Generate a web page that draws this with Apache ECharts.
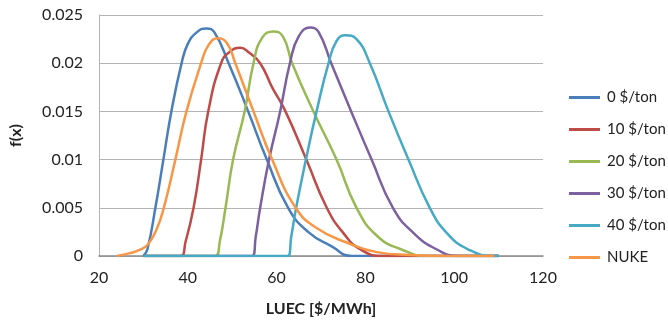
<!DOCTYPE html>
<html><head><meta charset="utf-8">
<script src="https://cdn.jsdelivr.net/npm/echarts@6/dist/echarts.min.js"></script>
<style>html,body{margin:0;padding:0;background:#fff}#c{width:668px;height:322px}</style>
</head><body><div id="c"></div>
<script>
const seriesNames = ['0 $/ton', '10 $/ton', '20 $/ton', '30 $/ton', '40 $/ton', 'NUKE'];
const xTicks = [20, 40, 60, 80, 100, 120];
const yTicks = [0, 0.005, 0.01, 0.015, 0.02, 0.025];

const x0 = [30, 30.9, 32.7, 34.5, 36.3, 38.6, 40, 42, 44.2, 46, 49.2, 53.6, 57.8, 62.6, 67.1, 72.4, 77, 110];
const y0 = [0, 0.0007, 0.005, 0.01, 0.015, 0.02, 0.022, 0.0232, 0.0236, 0.0232, 0.02, 0.015, 0.01, 0.005, 0.0025, 0.001, 0, 0];

const x10 = [30, 38.3, 39.5, 41.3, 43, 44.6, 47.5, 49.5, 51.8, 53.8, 56.3, 59, 62, 66.7, 71.3, 75, 78.8, 84, 110];
const y10 = [0, 0, 0.0015, 0.005, 0.01, 0.015, 0.02, 0.0212, 0.0216, 0.0211, 0.02, 0.0175, 0.015, 0.01, 0.005, 0.0024, 0.0007, 0, 0];

const x20 = [30, 46.2, 47.2, 48.5, 50.2, 52.8, 54.8, 56.7, 59.3, 61.5, 63.5, 68.3, 73.5, 78, 82.6, 88, 94, 110];
const y20 = [0, 0, 0.0015, 0.005, 0.01, 0.015, 0.02, 0.0226, 0.0233, 0.0227, 0.02, 0.015, 0.01, 0.005, 0.0021, 0.0007, 0, 0];

const x30 = [30, 54.5, 55.3, 56.3, 58.3, 60.8, 63, 65, 67.6, 69.5, 72.3, 76.8, 81.4, 86.2, 90.8, 96, 101, 110];
const y30 = [0, 0, 0.002, 0.005, 0.01, 0.015, 0.02, 0.0228, 0.0237, 0.0232, 0.02, 0.015, 0.01, 0.005, 0.0024, 0.0007, 0, 0];

const x40 = [30, 62.5, 63.3, 64.4, 66.6, 69, 71.7, 73.5, 75.5, 78, 81, 85.2, 89.7, 94.5, 98.3, 103.1, 109, 110];
const y40 = [0, 0, 0.002, 0.005, 0.01, 0.015, 0.02, 0.0223, 0.0229, 0.0225, 0.02, 0.015, 0.01, 0.005, 0.0024, 0.0007, 0, 0];

const xNuke = [24, 27, 29, 31, 33, 34.6, 37.2, 39.7, 43, 44.7, 46.8, 48.8, 50.7, 54.8, 59, 64.3, 69, 75.8, 82.6, 90, 98, 109];
const yNuke = [0, 0.0003, 0.0006, 0.0012, 0.0028, 0.005, 0.01, 0.015, 0.02, 0.0219, 0.0226, 0.0221, 0.02, 0.015, 0.01, 0.005, 0.0029, 0.0014, 0.0004, 0.0001, 0, 0];

const colors = ['#4A7EBB', '#BE4B48', '#98B954', '#7D60A0', '#46AAC5', '#F79646'];
const xs = [x0, x10, x20, x30, x40, xNuke];
const ys = [y0, y10, y20, y30, y40, yNuke];

const font = 'Lato, "Open Sans", sans-serif';
const chart = echarts.init(document.getElementById('c'), null, {renderer: 'canvas'});
chart.setOption({
  animation: false,
  backgroundColor: '#fff',
  color: colors,
  grid: {left: 98, right: 125, top: 15, bottom: 65},
  xAxis: {
    type: 'value', min: xTicks[0], max: xTicks[xTicks.length - 1], interval: 20,
    name: 'LUEC [$/MWh]', nameLocation: 'middle', nameGap: 45,
    nameTextStyle: {fontFamily: font, fontSize: 16, fontWeight: 'bold', color: '#222'},
    axisLine: {show: true, lineStyle: {color: '#8c8c8c', width: 1.5}},
    axisTick: {show: false},
    axisLabel: {fontFamily: font, fontSize: 16, color: '#222', margin: 14},
    splitLine: {show: false}
  },
  yAxis: {
    type: 'value', min: yTicks[0], max: yTicks[yTicks.length - 1], interval: 0.005,
    name: 'f(x)', nameLocation: 'middle', nameGap: 75, nameRotate: 90,
    nameTextStyle: {fontFamily: font, fontSize: 16, fontWeight: 'bold', color: '#222'},
    axisLine: {show: true, lineStyle: {color: '#b4b4b4', width: 1}},
    axisTick: {show: false},
    axisLabel: {fontFamily: font, fontSize: 16, color: '#222', margin: 16},
    splitLine: {show: true, lineStyle: {color: '#b4b4b4', width: 1}}
  },
  legend: {
    orient: 'vertical', left: 564, top: 85, itemGap: 17, itemWidth: 31, itemHeight: 3,
    icon: 'rect',
    textStyle: {fontFamily: font, fontSize: 15, color: '#222', padding: [0, 0, 0, 2]},
    data: seriesNames
  },
  series: seriesNames.map((n, i) => ({
    name: n, type: 'line', showSymbol: false, symbol: 'none',
    smooth: 0.5,
    lineStyle: {width: 2.5, color: colors[i]},
    itemStyle: {color: colors[i]},
    data: xs[i].map((x, k) => [x, ys[i][k]])
  }))
});
</script></body></html>
